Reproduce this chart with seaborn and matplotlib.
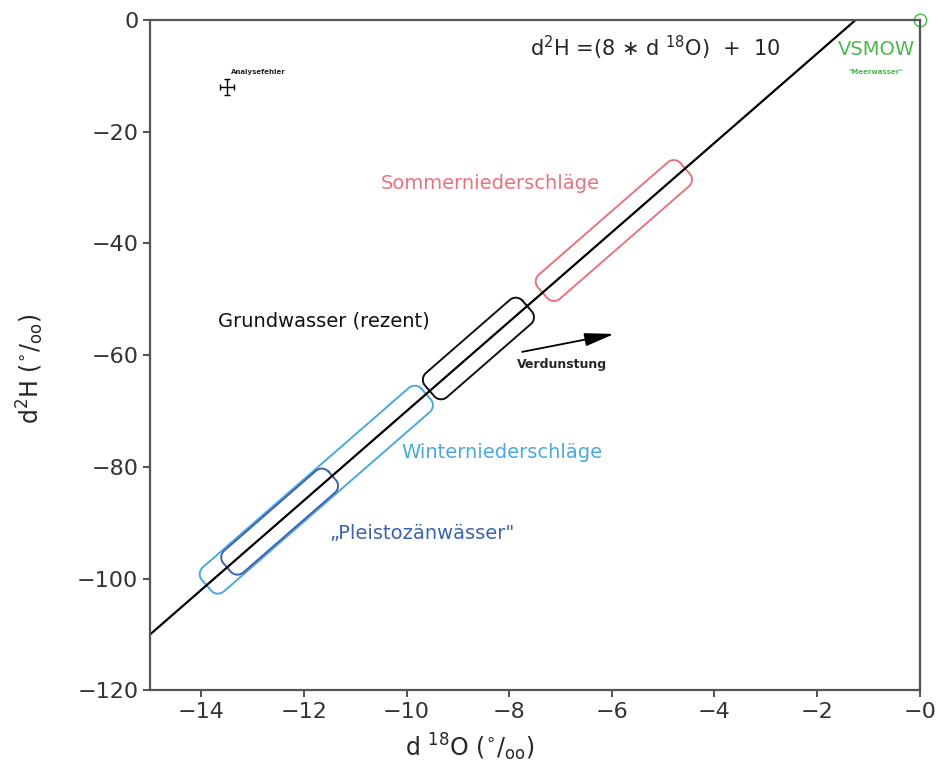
import numpy as np
import pandas as pd
import matplotlib
matplotlib.use("Agg")
import matplotlib.pyplot as plt
import seaborn as sns

# Globale Meteorische Wasserlinie: d2H = 8 * d18O + 10
mwl_x = [-15.0, -1.25]
mwl_slope = 8
mwl_intercept = 10

# Felder entlang der Linie (d18O-Anfang, d18O-Ende, halbe Breite in px)
feld_namen = ["Winterniederschläge", "Pleistozänwässer", "Grundwasser", "Sommerniederschläge"]
feld_x0 = [-13.9, -13.5, -9.55, -7.35]
feld_x1 = [-9.62, -11.45, -7.65, -4.57]
feld_farbe = ["#4aa8dc", "#3c64ad", "#111111", "#e8737c"]
feld_breite = [16, 14.5, 16, 16]

# Analysefehler
fehler_x, fehler_y = -13.5, -12
fehler_dx, fehler_dy = 0.14, 1.5

# VSMOW
vsmow_x, vsmow_y = 0, 0

x_ticks = [-14, -12, -10, -8, -6, -4, -2, 0]
x_labels = ["−14", "−12", "−10", "−8", "−6", "−4", "−2", "−0"]
y_ticks = [0, -20, -40, -60, -80, -100, -120]
y_labels = ["0", "−20", "−40", "−60", "−80", "−100", "−120"]

sns.set_theme(style="white")
plt.rcParams["font.family"] = ["DejaVu Sans"]

fig = plt.figure(figsize=(9.5, 7.73), dpi=100)
ax = fig.add_axes([0.158, 0.107, 0.81, 0.867])
ax.set_xlim(-15, 0)
ax.set_ylim(-120, 0)

df = pd.DataFrame({"x": mwl_x})
df["y"] = mwl_slope * df["x"] + mwl_intercept


def feld(x0, x1, h, farbe, lw=1.4, rad=9):
    # abgerundetes Rechteck im Pixelraum, dann zurück in Datenkoordinaten
    p0 = ax.transData.transform((x0, mwl_slope * x0 + mwl_intercept))
    p1 = ax.transData.transform((x1, mwl_slope * x1 + mwl_intercept))
    d = p1 - p0
    L = np.hypot(*d)
    u = d / L
    v = np.array([-u[1], u[0]])
    ecken = [(L - rad, h - rad, 0), (rad, h - rad, np.pi / 2),
             (rad, -h + rad, np.pi), (L - rad, -h + rad, 3 * np.pi / 2)]
    pts = []
    for a, b, t0 in ecken:
        t = np.linspace(t0, t0 + np.pi / 2, 15)
        for tt in t:
            loc = np.array([a + rad * np.cos(tt), b + rad * np.sin(tt)])
            pts.append(p0 + loc[0] * u + loc[1] * v)
    pts.append(pts[0])
    data = ax.transData.inverted().transform(np.array(pts))
    ax.plot(data[:, 0], data[:, 1], color=farbe, lw=lw)


for x0, x1, h, c in zip(feld_x0, feld_x1, feld_breite, feld_farbe):
    feld(x0, x1, h, c)

sns.lineplot(data=df, x="x", y="y", color="black", lw=1.6, ax=ax)

# Analysefehler
ax.errorbar(fehler_x, fehler_y, xerr=fehler_dx, yerr=fehler_dy, color="black",
            lw=1.0, capsize=2.5)
ax.text(-13.42, -9.6, "Analysefehler", fontsize=5, fontweight="bold")

# VSMOW
ax.plot(vsmow_x, vsmow_y, "o", mfc="none", mec="#4cb84c", ms=9, clip_on=False)
ax.text(-0.85, -5.3, "VSMOW", color="#4cb84c", fontsize=14, ha="center", va="center")
ax.text(-0.85, -9.3, "\"Meerwasser\"", color="#4cb84c", fontsize=5, ha="center",
        va="center", fontweight="bold")

# Gleichung
ax.text(-7.6, -5, r"d$^{2}$H =(8 $\ast$ d $^{18}$O)  +  10", fontsize=15, va="center")

# Beschriftungen
ax.text(-10.5, -29.2, "Sommerniederschläge", color="#e8737c", fontsize=14, va="center")
ax.text(-13.67, -53.8, "Grundwasser (rezent)", color="#111111", fontsize=14, va="center")
ax.text(-10.1, -77.4, "Winterniederschläge", color="#4aa8dc", fontsize=14, va="center")
ax.text(-11.5, -91.9, "„Pleistozänwässer\"", color="#3c64ad", fontsize=14, va="center")

# Verdunstung
ax.annotate("", xy=(-5.9, -56.1), xytext=(-7.8, -59.5),
            arrowprops=dict(arrowstyle="-|>,head_length=0.9,head_width=0.2",
                            color="black", lw=1.3, mutation_scale=20))
ax.text(-7.85, -60.5, "Verdunstung", fontsize=9, fontweight="bold", va="top")

ax.set_xticks(x_ticks)
ax.set_xticklabels(x_labels)
ax.set_yticks(y_ticks)
ax.set_yticklabels(y_labels)
ax.tick_params(axis="both", direction="out", length=5, width=1.2, labelsize=16,
               colors="#333333", bottom=True, left=True)
for s in ax.spines.values():
    s.set_color("#555555")
    s.set_linewidth(1.6)

ax.set_xlabel(r"d $^{18}$O ($^{\circ}$/$_{\mathrm{oo}}$)", fontsize=17)
ax.set_ylabel(r"d$^{2}$H ($^{\circ}$/$_{\mathrm{oo}}$)", fontsize=17)
ax.xaxis.set_label_coords(0.415, -0.062)
ax.yaxis.set_label_coords(-0.135, 0.48)
ax.set_xlim(-15, 0)
ax.set_ylim(-120, 0)

fig.savefig("out.png", dpi=100)
